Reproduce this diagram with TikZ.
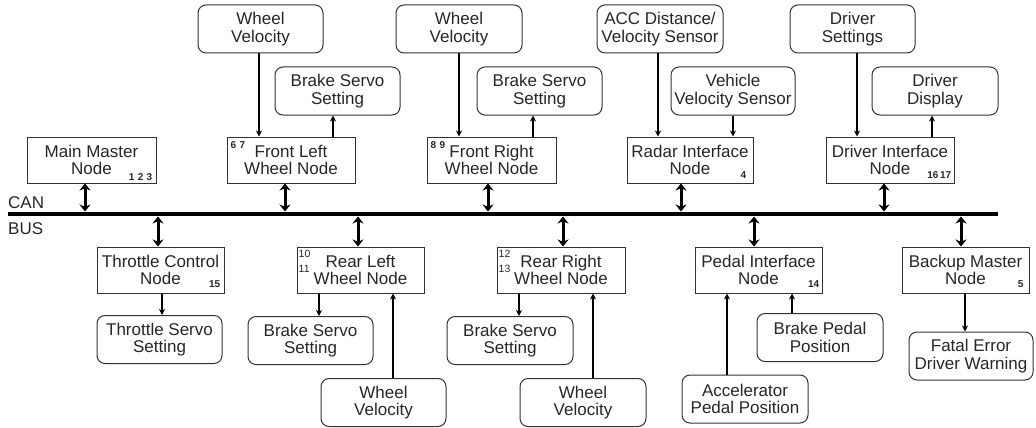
\documentclass[tikz,border=0pt]{standalone}
\usepackage{fontspec}
\setmainfont{Liberation Sans}
\usetikzlibrary{arrows.meta}
\begin{document}
\begin{tikzpicture}[x=1pt,y=-1pt,
  every node/.style={font=\fontsize{17}{17.5}\selectfont, align=center, inner sep=0pt, text=black!85},
  nodebox/.style={draw=black!80, line width=1pt, minimum width=128pt, minimum height=46pt},
  infobox/.style={draw=black!80, line width=1pt, rounded corners=8pt, minimum width=125pt, minimum height=48pt},
  num/.style={font=\fontsize{10}{10}\selectfont\bfseries, inner sep=0pt},
  numst/.style={font=\fontsize{10.5}{15.5}\selectfont, inner sep=0pt, align=left},
  arr/.style={line width=1.4pt, -{Stealth[length=6pt,width=6pt]}},
  busarr/.style={line width=3pt, {Stealth[length=7pt,width=11pt]}-{Stealth[length=7pt,width=11pt]}},
  busline/.style={line width=4.5pt}
]
\useasboundingbox (0,0) rectangle (1036,428);

% bus
\coordinate (busL) at (8,214);
\coordinate (busR) at (998,214);
\coordinate (busT) at (0,211.5);
\coordinate (busB) at (0,216.5);
\draw[busline] (busL) -- (busR);
\node[anchor=west] (can) at (8,203) {CAN};
\node[anchor=west] (bus) at (8,229) {BUS};

% top row main nodes
\node[nodebox, minimum width=129pt] (mm) at (91.5,160) {Main Master\\Node};
\node[nodebox] (fl) at (291,160) {Front Left\\Wheel Node};
\node[nodebox, minimum width=129pt] (fr) at (491.5,160) {Front Right\\Wheel Node};
\node[nodebox, minimum width=126pt] (rad) at (690,160) {Radar Interface\\Node};
\node[nodebox] (drv) at (890,160) {Driver Interface\\Node};

% top info boxes
\node[infobox] (wv1) at (260.5,29) {Wheel\\Velocity};
\node[infobox] (bs1) at (337.5,91) {Brake Servo\\Setting};
\node[infobox, minimum width=126pt] (wv2) at (459,29) {Wheel\\Velocity};
\node[infobox] (bs2) at (539.5,91) {Brake Servo\\Setting};
\node[infobox, minimum width=126pt] (acc) at (660,29) {ACC Distance/\\Velocity Sensor};
\node[infobox, minimum width=124pt] (vvs) at (733,91) {Vehicle\\Velocity Sensor};
\node[infobox] (ds) at (852.5,29) {Driver\\Settings};
\node[infobox, minimum width=126pt] (dd) at (935,91) {Driver\\Display};

% bottom row main nodes
\node[nodebox, minimum width=127pt] (thr) at (160.5,270) {Throttle Control\\Node};
\node[nodebox, minimum width=127pt] (rl) at (360.5,270) {Rear Left\\Wheel Node};
\node[nodebox] (rr) at (561,270) {Rear Right\\Wheel Node};
\node[nodebox, minimum width=127pt] (ped) at (758.5,270) {Pedal Interface\\Node};
\node[nodebox, minimum width=127pt] (bkm) at (965.5,270) {Backup Master\\Node};

% bottom info boxes
\node[infobox] (tss) at (159.5,339.5) {Throttle Servo\\Setting};
\node[infobox] (bsrl) at (310.5,340.5) {Brake Servo\\Setting};
\node[infobox] (wvrl) at (383.5,402.5) {Wheel\\Velocity};
\node[infobox, minimum width=126pt] (bsrr) at (510,340.5) {Brake Servo\\Setting};
\node[infobox, minimum width=126pt] (wvrr) at (583,402.5) {Wheel\\Velocity};
\node[infobox, minimum width=126pt] (bpp) at (820,337.5) {Brake Pedal\\Position};
\node[infobox, minimum width=126pt] (app) at (745,399) {Accelerator\\Pedal Position};
\node[infobox, minimum width=124pt] (fedw) at (971,356) {Fatal Error\\Driver Warning};

% small numbers
\node[num, anchor=south east] (n123) at ([xshift=-4pt,yshift=3pt]mm.south east) {1\,\,2\,\,3};
\node[num, anchor=north west] (n67) at ([xshift=4pt,yshift=-5pt]fl.north west) {6\,\,7};
\node[num, anchor=north west] (n89) at ([xshift=4pt,yshift=-5pt]fr.north west) {8\,\,9};
\node[num, anchor=south east] (n4) at ([xshift=-7pt,yshift=5pt]rad.south east) {4};
\node[num, anchor=south east] (n1617) at ([xshift=-3pt,yshift=5pt]drv.south east) {16\,17};
\node[num, anchor=south east] (n15) at ([xshift=-4pt,yshift=6pt]thr.south east) {15};
\node[numst, anchor=north west] (n1011) at ([xshift=2pt,yshift=-3pt]rl.north west) {10\\11};
\node[numst, anchor=north west] (n1213) at ([xshift=2pt,yshift=-3pt]rr.north west) {12\\13};
\node[num, anchor=south east] (n14) at ([xshift=-3pt,yshift=6pt]ped.south east) {14};
\node[num, anchor=south east] (n5) at ([xshift=-6pt,yshift=6pt]bkm.south east) {5};

% x positions of connectors
\foreach \n/\x in {b1/85,b2/285,b3/488,b4/681,b5/884,b6/158,b7/358,b8/563,b9/754,b10/961,
  a1/259,a2/333,a3/459,a4/533,a5/658,a6/733,a7/857,a8/932,
  a9/162,a10/319,a11/393,a12/519,a13/593,a14/727,a15/792,a16/965}
  \coordinate (\n) at (\x,0);

% bus connectors
\draw[busarr] (mm.south -| b1) -- (busT -| b1);
\draw[busarr] (fl.south -| b2) -- (busT -| b2);
\draw[busarr] (fr.south -| b3) -- (busT -| b3);
\draw[busarr] (rad.south -| b4) -- (busT -| b4);
\draw[busarr] (drv.south -| b5) -- (busT -| b5);
\draw[busarr] (busB -| b6) -- (thr.north -| b6);
\draw[busarr] (busB -| b7) -- (rl.north -| b7);
\draw[busarr] (busB -| b8) -- (rr.north -| b8);
\draw[busarr] (busB -| b9) -- (ped.north -| b9);
\draw[busarr] (busB -| b10) -- (bkm.north -| b10);

% thin connectors
\draw[arr] (wv1.south -| a1) -- (fl.north -| a1);
\draw[arr] (fl.north -| a2) -- (bs1.south -| a2);
\draw[arr] (wv2.south -| a3) -- (fr.north -| a3);
\draw[arr] (fr.north -| a4) -- (bs2.south -| a4);
\draw[arr] (acc.south -| a5) -- (rad.north -| a5);
\draw[arr] (vvs.south -| a6) -- (rad.north -| a6);
\draw[arr] (ds.south -| a7) -- (drv.north -| a7);
\draw[arr] (drv.north -| a8) -- (dd.south -| a8);
\draw[arr] (thr.south -| a9) -- (tss.north -| a9);
\draw[arr] (rl.south -| a10) -- (bsrl.north -| a10);
\draw[arr] (wvrl.north -| a11) -- (rl.south -| a11);
\draw[arr] (rr.south -| a12) -- (bsrr.north -| a12);
\draw[arr] (wvrr.north -| a13) -- (rr.south -| a13);
\draw[arr] (app.north -| a14) -- (ped.south -| a14);
\draw[arr] (bpp.north -| a15) -- (ped.south -| a15);
\draw[arr] (bkm.south -| a16) -- (fedw.north -| a16);
\end{tikzpicture}
\end{document}
